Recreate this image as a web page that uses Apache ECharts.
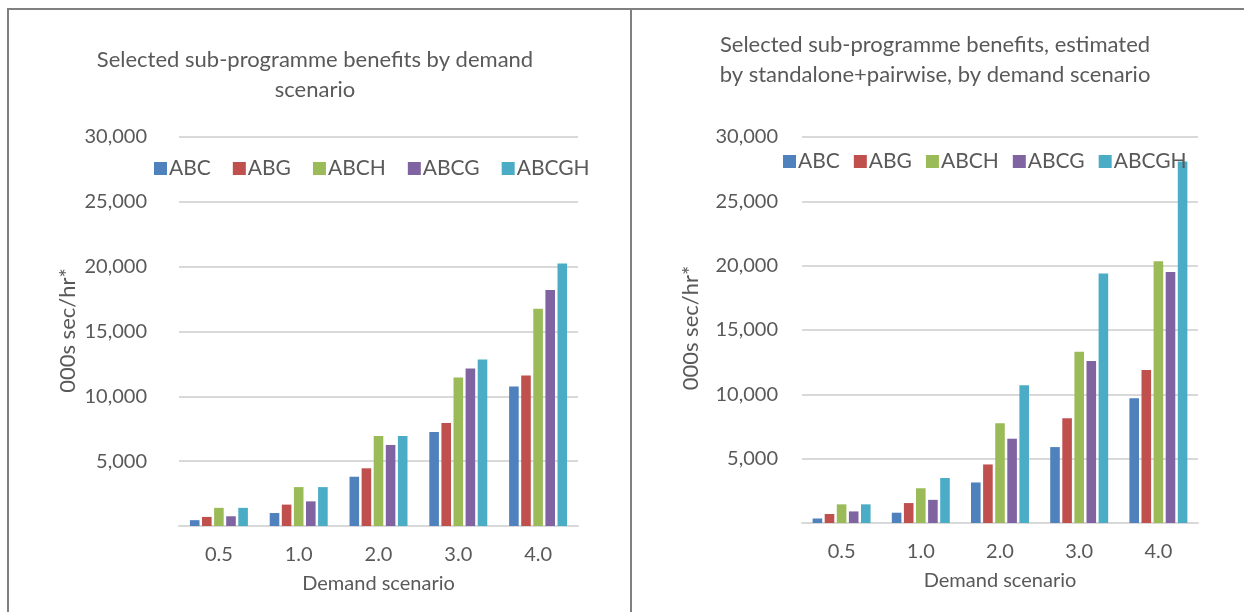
<!DOCTYPE html>
<html>
<head>
<meta charset="utf-8">
<script src="https://cdn.jsdelivr.net/npm/echarts@6/dist/echarts.min.js"></script>
<style>
  html, body { margin: 0; padding: 0; background: #ffffff; }
  #chart { width: 1244px; height: 612px; }
</style>
</head>
<body>
<div id="chart"></div>
<script>
// Demand scenarios on the category axis
const scenarios = ['0.5', '1.0', '2.0', '3.0', '4.0'];
const programmes = ['ABC', 'ABG', 'ABCH', 'ABCG', 'ABCGH'];
const colors = ['#4f81bd', '#c0504d', '#9bbb59', '#8064a2', '#4bacc6'];
const yTicks = [0, 5000, 10000, 15000, 20000, 25000, 30000];

// Benefits, 000s sec/hr*, full model runs
const fullABC   = [450, 1000, 3800, 7250, 10750];
const fullABG   = [700, 1650, 4450, 7950, 11600];
const fullABCH  = [1400, 3000, 6950, 11450, 16750];
const fullABCG  = [750, 1900, 6250, 12150, 18200];
const fullABCGH = [1400, 3000, 6950, 12850, 20250];

// Benefits estimated from standalone + pairwise runs
const estABC   = [350, 800, 3150, 5900, 9700];
const estABG   = [700, 1550, 4550, 8150, 11900];
const estABCH  = [1450, 2700, 7750, 13300, 20350];
const estABCG  = [900, 1800, 6550, 12600, 19500];
const estABCGH = [1450, 3500, 10700, 19400, 28100];

const fullSets = [fullABC, fullABG, fullABCH, fullABCG, fullABCGH];
const estSets = [estABC, estABG, estABCH, estABCG, estABCGH];

const FONT = 'Lato, "Open Sans", sans-serif';
const TXT = '#595959';
const GRID_LINE = '#d9d9d9';
const FRAME = '#808080';

const chart = echarts.init(document.getElementById('chart'), null, { renderer: 'canvas' });

function xAxisFor(gridIndex) {
  return {
    type: 'category',
    gridIndex: gridIndex,
    data: scenarios,
    name: 'Demand scenario',
    nameLocation: 'middle',
    nameGap: 48,
    nameTextStyle: { color: TXT, fontSize: 20, fontFamily: FONT },
    axisLine: { lineStyle: { color: GRID_LINE, width: 2 } },
    axisTick: { show: false },
    axisLabel: { color: TXT, fontSize: 20, fontFamily: FONT, margin: 19 }
  };
}

function yAxisFor(gridIndex, labelMargin, nameSize, namePad) {
  return {
    type: 'value',
    gridIndex: gridIndex,
    min: yTicks[0],
    max: yTicks[yTicks.length - 1],
    interval: yTicks[1] - yTicks[0],
    name: '000s sec/hr*',
    nameLocation: 'middle',
    nameGap: 100,
    nameRotate: 90,
    nameTextStyle: { color: TXT, fontSize: nameSize, fontFamily: FONT, padding: namePad },
    axisLine: { show: false },
    axisTick: { show: false },
    splitLine: { lineStyle: { color: GRID_LINE, width: 2 } },
    axisLabel: {
      color: TXT, fontSize: 20, fontFamily: FONT, margin: labelMargin,
      formatter: v => (v === 0 ? '' : v.toLocaleString('en-US'))
    }
  };
}

function seriesFor(sets, axisIndex) {
  return sets.map((values, i) => ({
    name: programmes[i],
    type: 'bar',
    xAxisIndex: axisIndex,
    yAxisIndex: axisIndex,
    data: values,
    barWidth: 9.6,
    barGap: '26%',
    itemStyle: { color: colors[i] },
    emphasis: { disabled: true }
  }));
}

const titleStyle = { color: TXT, fontSize: 22, fontWeight: 'normal', fontFamily: FONT, lineHeight: 30 };
const legendText = { color: TXT, fontSize: 21, fontFamily: FONT, padding: [0, 0, 0, -3] };

const option = {
  animation: false,
  backgroundColor: '#ffffff',
  color: colors,
  textStyle: { fontFamily: FONT },
  title: [
    {
      text: 'Selected sub-programme benefits by demand\nscenario',
      left: 310, top: 40, textAlign: 'center',
      textStyle: titleStyle
    },
    {
      text: 'Selected sub-programme benefits, estimated\nby standalone+pairwise, by demand scenario',
      left: 930, top: 25, textAlign: 'center',
      textStyle: titleStyle
    }
  ],
  legend: [
    {
      data: programmes, left: 149, top: 153, itemWidth: 13, itemHeight: 13, itemGap: 22,
      icon: 'rect', selectedMode: false, textStyle: legendText
    },
    {
      data: programmes, left: 778, top: 146, itemWidth: 13, itemHeight: 13, itemGap: 14,
      icon: 'rect', selectedMode: false, textStyle: legendText
    }
  ],
  grid: [
    { left: 179, right: 666, top: 137, bottom: 86 },
    { left: 802, right: 46, top: 137, bottom: 89 }
  ],
  xAxis: [xAxisFor(0), xAxisFor(1)],
  yAxis: [yAxisFor(0, 32, 22, [0, 0, 0, 2]), yAxisFor(1, 24, 22, [0, 0, 0, 4])],
  series: seriesFor(fullSets, 0).concat(seriesFor(estSets, 1)),
  graphic: [
    { type: 'line', shape: { x1: 7, y1: 9, x2: 1244, y2: 9 }, style: { stroke: FRAME, lineWidth: 2 } },
    { type: 'line', shape: { x1: 8, y1: 9, x2: 8, y2: 612 }, style: { stroke: FRAME, lineWidth: 2 } },
    { type: 'line', shape: { x1: 631, y1: 9, x2: 631, y2: 612 }, style: { stroke: FRAME, lineWidth: 2 } }
  ]
};

chart.setOption(option);
</script>
</body>
</html>
